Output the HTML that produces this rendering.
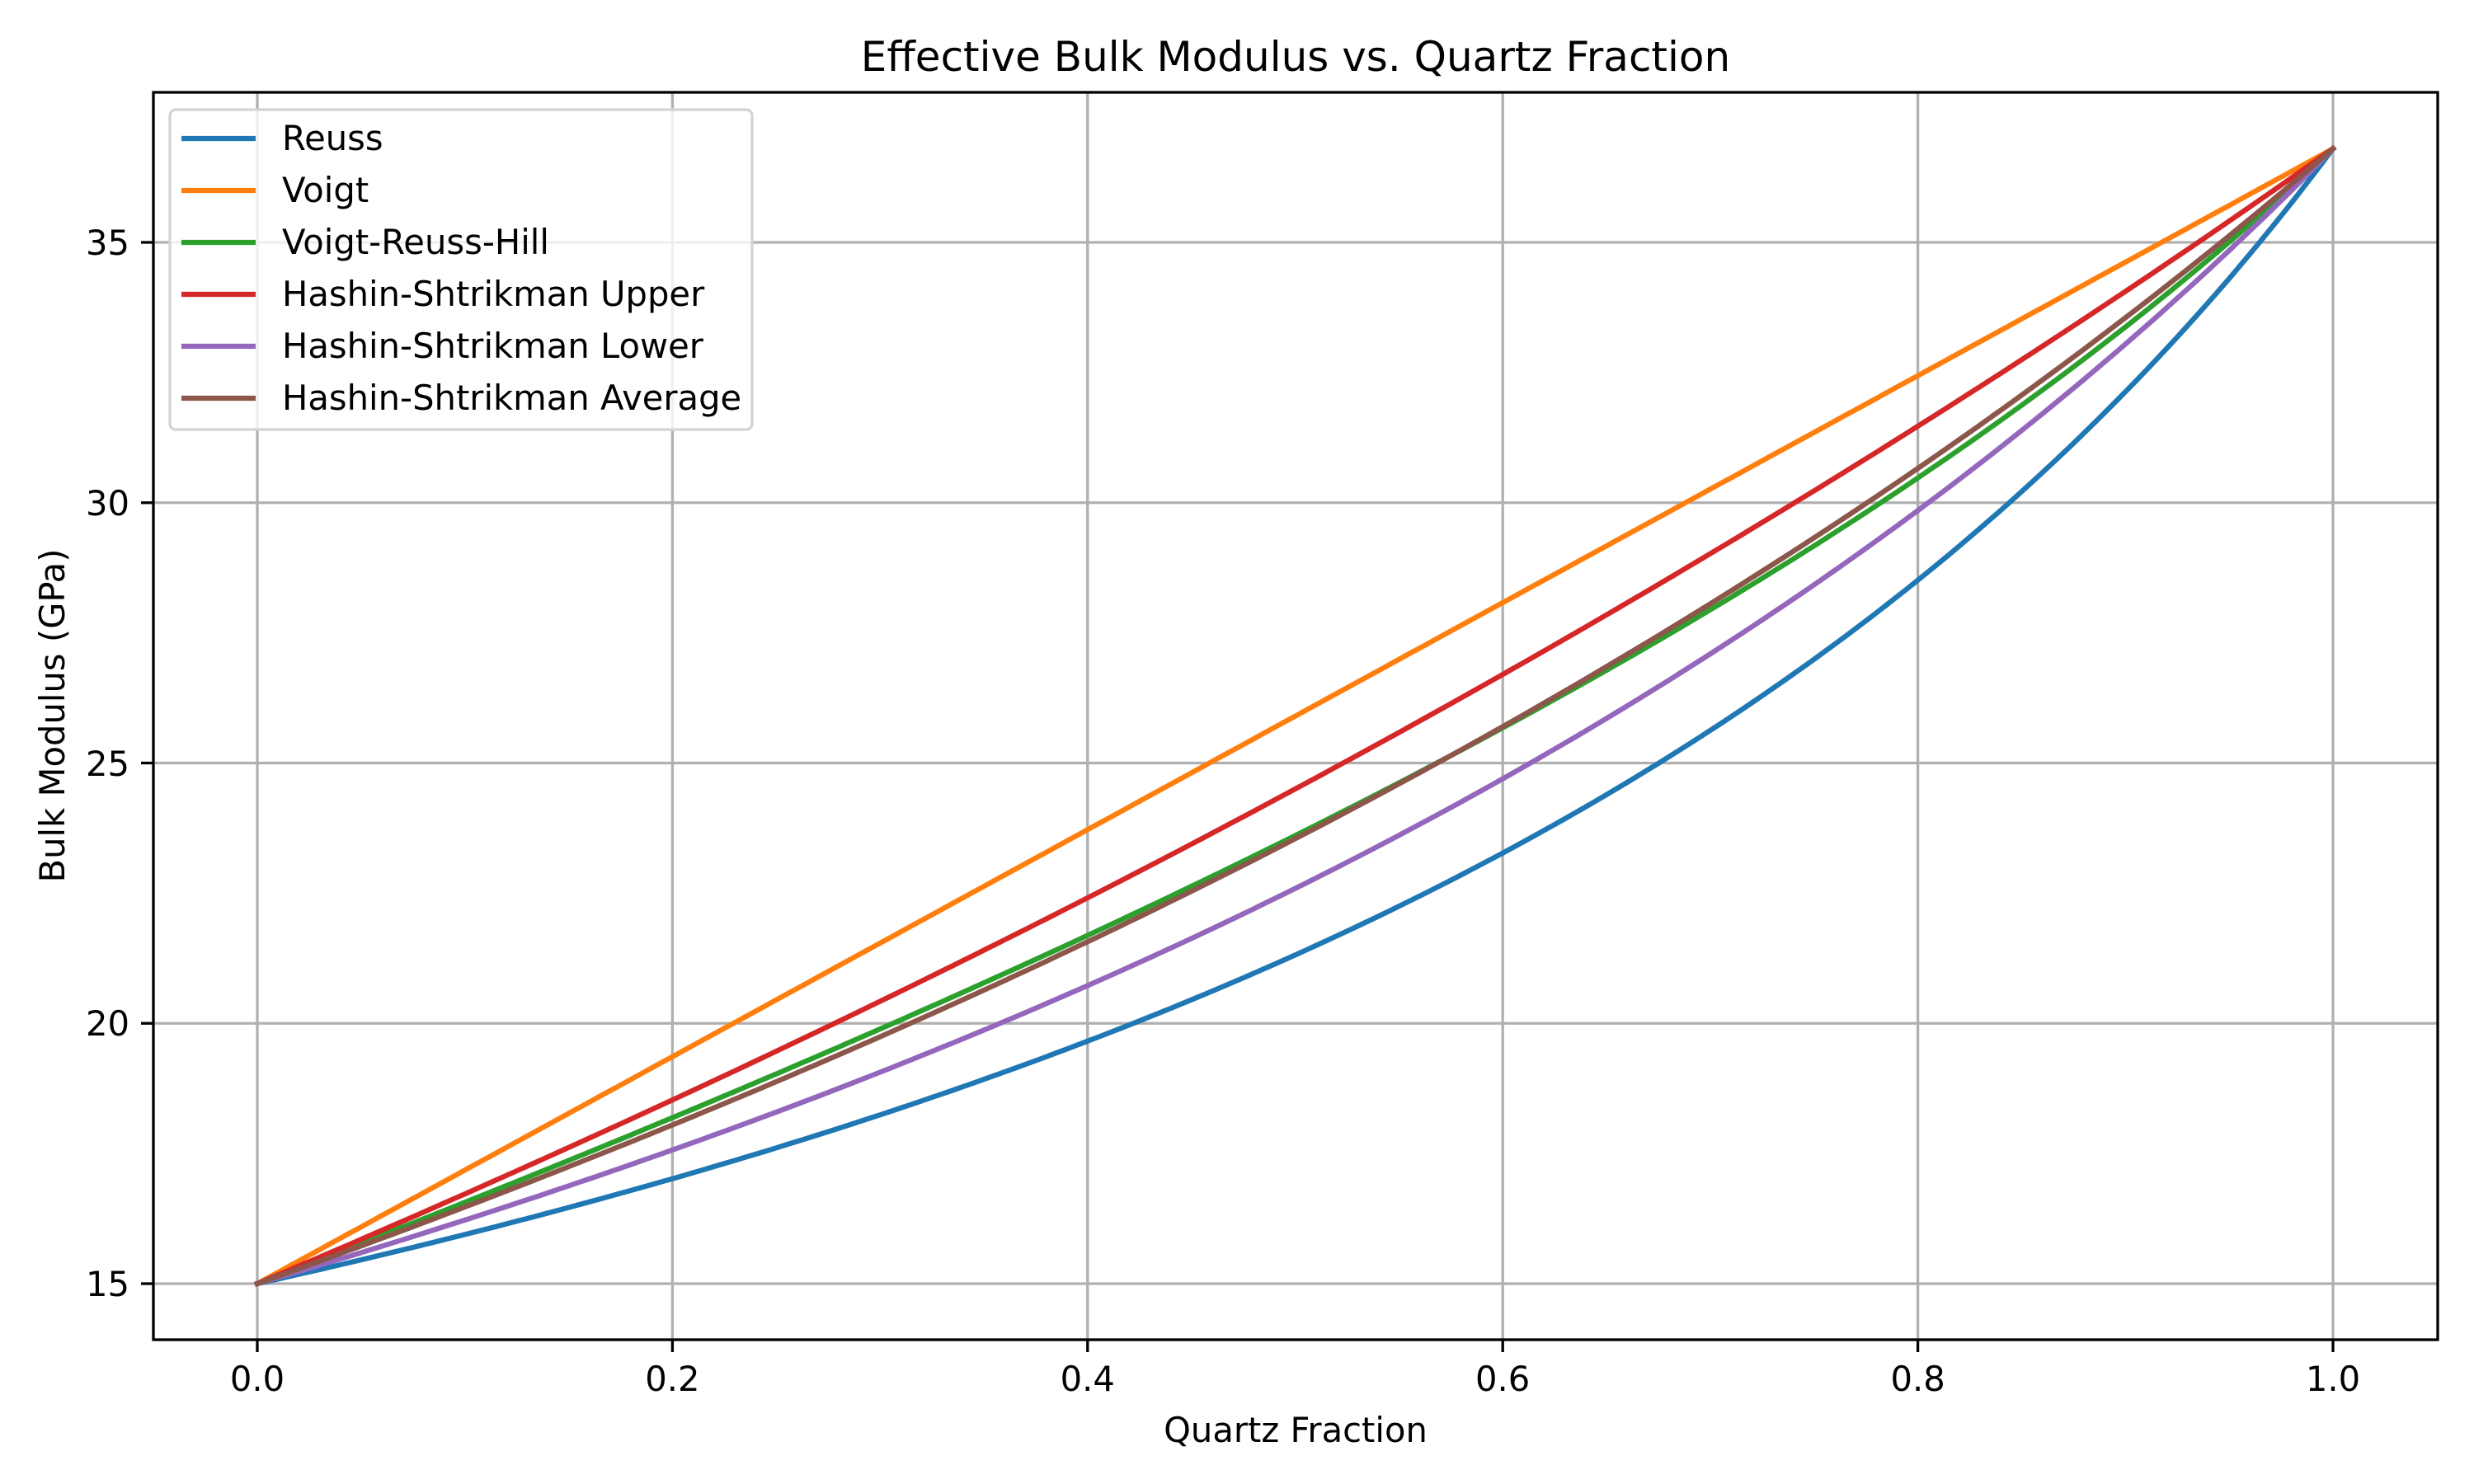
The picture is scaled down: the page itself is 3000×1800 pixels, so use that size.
<!DOCTYPE html>
<html><head><meta charset="utf-8"><style>
html,body{margin:0;padding:0;background:#fff;}
svg{display:block;font-family:"DejaVu Sans","Liberation Sans",sans-serif;}
</style></head><body>
<svg id="s" width="3000" height="1800" viewBox="0 0 3000 1800" xmlns="http://www.w3.org/2000/svg">
<rect width="3000" height="1800" fill="#fff"/>
<g id="grid" stroke="#b0b0b0" stroke-width="3.3"></g>
<g id="lines" fill="none" stroke-width="6.25" stroke-linejoin="round" stroke-linecap="square"></g>
<rect x="186" y="112" width="2770" height="1513" fill="none" stroke="#000" stroke-width="3.3"/>
<g id="ticks" stroke="#000" stroke-width="3.3"></g>
<g font-size="41.7" fill="#000">
<text x="312" y="1687" text-anchor="middle">0.0</text>
<text x="815.4" y="1687" text-anchor="middle">0.2</text>
<text x="1318.8" y="1687" text-anchor="middle">0.4</text>
<text x="1822.2" y="1687" text-anchor="middle">0.6</text>
<text x="2325.6" y="1687" text-anchor="middle">0.8</text>
<text x="2829" y="1687" text-anchor="middle">1.0</text>
<text x="157" y="1572" text-anchor="end">15</text>
<text x="157" y="1256" text-anchor="end">20</text>
<text x="157" y="941" text-anchor="end">25</text>
<text x="157" y="625" text-anchor="end">30</text>
<text x="157" y="309" text-anchor="end">35</text>
<text x="1571" y="1749" text-anchor="middle">Quartz Fraction</text>
<text transform="translate(78,868) rotate(-90)" text-anchor="middle">Bulk Modulus (GPa)</text>
<text x="1571" y="86" text-anchor="middle" font-size="50">Effective Bulk Modulus vs. Quartz Fraction</text>
</g>
<rect x="206" y="133" width="706" height="388" rx="7" fill="#fff" fill-opacity="0.8" stroke="#d4d4d4" stroke-width="3.3"/>
<g id="leg" stroke-width="6.25"></g>
<g font-size="41.7" fill="#000">
<text x="342" y="182">Reuss</text>
<text x="342" y="245">Voigt</text>
<text x="342" y="308">Voigt-Reuss-Hill</text>
<text x="342" y="371">Hashin-Shtrikman Upper</text>
<text x="342" y="434">Hashin-Shtrikman Lower</text>
<text x="342" y="497">Hashin-Shtrikman Average</text>
</g>
</svg>
<script>
var NS="http://www.w3.org/2000/svg";
function px(x){return 312+2517*x;}
function py(v){return 1557-63.15*(v-15);}
function el(p,t,a){var e=document.createElementNS(NS,t);for(var k in a)e.setAttribute(k,a[k]);document.getElementById(p).appendChild(e);}
for(var i=0;i<=5;i++){var x=px(i*0.2);el("grid","line",{x1:x,x2:x,y1:112,y2:1625});el("ticks","line",{x1:x,x2:x,y1:1625,y2:1640});}
for(var v=15;v<=35;v+=5){var y=py(v);el("grid","line",{x1:186,x2:2956,y1:y,y2:y});el("ticks","line",{x1:171,x2:186,y1:y,y2:y});}
var K1=15,K2=36.8;
function hs(f,a){return 1/((1-f)/(K1+a)+f/(K2+a))-a;}
var fns=[
 function(f){return 1/((1-f)/K1+f/K2);},
 function(f){return (1-f)*K1+f*K2;},
 function(f){return 0.5*((1-f)*K1+f*K2+1/((1-f)/K1+f/K2));},
 function(f){return hs(f,59);},
 function(f){return hs(f,10);},
 function(f){return 0.5*(hs(f,59)+hs(f,10));}
];
var cols=["#1f77b4","#ff7f0e","#2ca02c","#d62728","#9467bd","#8c564b"];
for(var j=0;j<6;j++){var pts=[];for(var n=0;n<=200;n++){var f=n/200;pts.push(px(f).toFixed(1)+","+py(fns[j](f)).toFixed(1));}
 el("lines","polyline",{points:pts.join(" "),stroke:cols[j]});
 el("leg","line",{x1:220,x2:310,y1:168+63*j,y2:168+63*j,stroke:cols[j]});}
</script>
</body></html>
